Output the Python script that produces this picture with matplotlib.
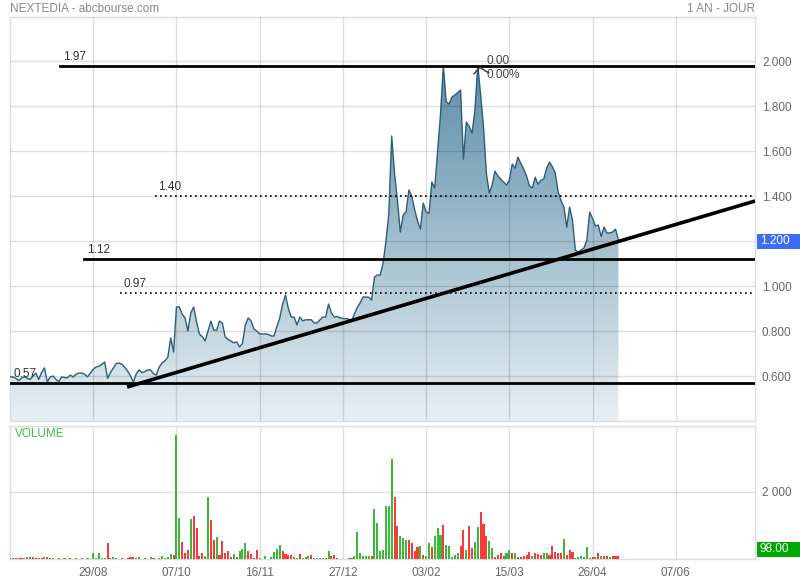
import numpy as np
import matplotlib
matplotlib.use('Agg')
import matplotlib.pyplot as plt
from matplotlib.colors import LinearSegmentedColormap
from matplotlib.patches import PathPatch, Rectangle
from matplotlib.transforms import blended_transform_factory

plt.rcParams['font.family'] = ['Liberation Sans', 'DejaVu Sans']

title = "NEXTEDIA - abcbourse.com"
period = "1 AN - JOUR"

price = [
    0.596, 0.596, 0.59, 0.58, 0.59, 0.597, 0.59, 0.585, 0.60, 0.613,
    0.585, 0.615, 0.636, 0.573, 0.596, 0.600, 0.585, 0.575, 0.596, 0.593,
    0.592, 0.604, 0.596, 0.608, 0.613, 0.613, 0.608, 0.596, 0.613, 0.63,
    0.64, 0.644, 0.652, 0.662, 0.59, 0.615, 0.635, 0.655, 0.658, 0.652,
    0.638, 0.622, 0.600, 0.573, 0.61, 0.627, 0.615, 0.62, 0.627, 0.627,
    0.61, 0.604, 0.64, 0.658, 0.668, 0.684, 0.769, 0.707, 0.907, 0.907,
    0.875, 0.858, 0.80, 0.88, 0.907, 0.84, 0.787, 0.775, 0.756, 0.80,
    0.844, 0.804, 0.804, 0.844, 0.835, 0.773, 0.762, 0.755, 0.747, 0.752,
    0.729, 0.745, 0.827, 0.858, 0.845, 0.809, 0.80, 0.787, 0.787, 0.787,
    0.785, 0.778, 0.778, 0.82, 0.858, 0.92, 0.96, 0.90, 0.862, 0.862,
    0.827, 0.862, 0.845, 0.85, 0.85, 0.85, 0.836, 0.836, 0.85, 0.862,
    0.862, 0.92, 0.88, 0.862, 0.865, 0.858, 0.856, 0.855, 0.853, 0.845,
    0.875, 0.905, 0.925, 0.951, 0.951, 0.95, 0.938, 1.04, 1.049, 1.049,
    1.10, 1.20, 1.32, 1.667, 1.50, 1.38, 1.24, 1.316, 1.33, 1.427,
    1.40, 1.34, 1.29, 1.253, 1.369, 1.33, 1.324, 1.462, 1.436, 1.60,
    1.76, 1.98, 1.82, 1.809, 1.84, 1.849, 1.86, 1.871, 1.564, 1.729,
    1.71, 1.68, 1.78, 1.98, 1.85, 1.707, 1.50, 1.413, 1.449, 1.511,
    1.49, 1.475, 1.462, 1.449, 1.47, 1.542, 1.524, 1.573, 1.545, 1.52,
    1.489, 1.445, 1.436, 1.484, 1.453, 1.47, 1.476, 1.524, 1.551, 1.53,
    1.502, 1.418, 1.38, 1.351, 1.262, 1.351, 1.293, 1.16, 1.151, 1.16,
    1.169, 1.204, 1.329, 1.30, 1.267, 1.271, 1.22, 1.262, 1.236, 1.236,
    1.24, 1.253, 1.205,
]

volume = [
    20, 20, 30, 30, 30, 20, 60, 50, 60, 30,
    30, 30, 60, 60, 20, 20, 10, 20, 10, 20,
    10, 20, 10, 20, 10, 20, 10, 20, 10, 180,
    20, 190, 30, 30, 480, 20, 60, 20, 10, 20,
    10, 20, 50, 70, 20, 50, 10, 20, 10, 70,
    20, 10, 20, 100, 20, 60, 150, 130, 3700, 1210,
    500, 180, 260, 1180, 1280, 930, 100, 180, 80, 1860,
    1170, 580, 650, 120, 530, 180, 250, 60, 150, 60,
    230, 310, 480, 250, 150, 20, 270, 30, 10, 100,
    10, 60, 220, 310, 430, 250, 150, 130, 120, 60,
    20, 160, 40, 50, 100, 130, 40, 40, 40, 20,
    20, 230, 100, 130, 20, 10, 10, 10, 40, 40,
    80, 815, 180, 80, 80, 80, 80, 1490, 1070, 250,
    280, 1590, 1570, 2990, 1850, 980, 680, 630, 580, 580,
    480, 230, 350, 400, 110, 80, 470, 350, 680, 930,
    730, 1010, 430, 380, 60, 110, 190, 380, 880, 280,
    980, 340, 500, 950, 1410, 1040, 700, 530, 340, 60,
    130, 180, 100, 180, 260, 170, 180, 60, 60, 80,
    130, 220, 80, 170, 150, 130, 180, 180, 110, 400,
    220, 180, 170, 600, 130, 280, 220, 40, 60, 80,
    60, 350, 40, 60, 60, 180, 90, 80, 80, 60,
    80, 100, 98,
]

# up (g) / down (r) flag of each volume bar, 10 per row
vol_dir = list(
    "rrrrrggrrr"
    "rrgrrggrrg"
    "grggrgggrg"
    "ggggrrggrr"
    "grrrgggrrg"
    "rggggggrgg"
    "rrrgrrrrgg"
    "rrgrrrrrgr"
    "gggrrrrggg"
    "gggggrrrrg"
    "grgggrgggg"
    "rgrrrrrggr"
    "ggggggrggg"
    "ggggrrgggr"
    "rrrgrggrgg"
    "grgggggrrg"
    "rrggrrrggr"
    "rrrggrgrrr"
    "rrgrrrggrr"
    "rrrgrrrggg"
    "ggrrgrgrrg"
    "rrr"
)

tick_pos = [29, 58, 87, 116, 145, 174, 203, 232]
tick_labels = ["29/08", "07/10", "16/11", "27/12", "03/02", "15/03", "26/04", "07/06"]
price_ticks = [0.6, 0.8, 1.0, 1.2, 1.4, 1.6, 1.8, 2.0]
vol_ticks = [2000]
vol_tick_labels = ["2 000"]

levels = [1.98, 1.40, 1.12, 0.97, 0.57]
level_labels = ["1.97", "1.40", "1.12", "0.97", "0.57"]
level_start = [17.4, 50.5, 25.8, 38.3, 0.0]
level_dotted = [False, True, False, True, False]

trend_x = [40.8, 259.6]
trend_y = [0.551, 1.378]

last_price = 1.200
last_volume = 98.00

n = len(price)
x = np.arange(n)
XMAX = 259.6
PMIN, PMAX = 0.40, 2.196
VMAX = 3970

fig = plt.figure(figsize=(8, 5.8), dpi=100)
ax = fig.add_axes([10/800, 159/580, 745/800, 404/580])
axv = fig.add_axes([10/800, 21/580, 745/800, 133/580])

for a in (ax, axv):
    for s in a.spines.values():
        s.set_color('#dddddd')
        s.set_linewidth(1)
    a.set_facecolor('white')

# price gradient area
poly = ax.fill_between(x, price, PMIN, color='none', lw=0)
path = poly.get_paths()[0]
patch = PathPatch(path, transform=ax.transData, facecolor='none', edgecolor='none')
ax.add_patch(patch)
cmap = LinearSegmentedColormap.from_list('g', ['#e8eff3', '#5b8ea8'])
grad = np.linspace(0, 1, 256).reshape(-1, 1)
im = ax.imshow(grad, extent=[0, n - 1, PMIN, 2.0], origin='lower', aspect='auto',
               cmap=cmap, zorder=1, interpolation='bilinear')
im.set_clip_path(patch)
ax.plot(x, price, color='#2c5e77', lw=1, zorder=3)

# levels
for lv, lab, st, dot in zip(levels, level_labels, level_start, level_dotted):
    if dot:
        ax.plot([st, XMAX], [lv, lv], color='black', lw=1.2, linestyle=(0, (1, 2)), zorder=4)
    else:
        ax.plot([st, XMAX], [lv, lv], color='black', lw=2, zorder=4)
    ax.text(st + 1.1, lv + 0.012, lab, fontsize=8.5, color='#333333', va='bottom', ha='left', zorder=5)

ax.plot(trend_x, trend_y, color='black', lw=2.6, zorder=4, solid_capstyle='butt')

# cursor at the top
pk = int(np.argmax(price[160:170])) + 160
ax.plot([pk - 1.3, pk + 0.7, pk + 3.8], [1.944, 1.972, 1.948], color='#333333', lw=1, zorder=5)
ax.text(166.2, 2.0, "0.00", fontsize=8.5, color='#444444', va='center', ha='left', zorder=5)
ax.text(166.2, 1.936, "0.00%", fontsize=8.5, color='#444444', va='center', ha='left', zorder=5)

ax.set_xlim(0, XMAX)
ax.set_ylim(PMIN, PMAX)
ax.set_xticks(tick_pos)
ax.set_xticklabels([])
ax.set_yticks(price_ticks)
# the 1.200 tick label is covered by the last-price tag
ax.set_yticklabels(["" if abs(v - last_price) < 1e-9 else f"{v:.3f}" for v in price_ticks])
ax.yaxis.tick_right()
ax.tick_params(axis='both', length=0)
ax.tick_params(axis='y', pad=5, labelsize=8.5, labelcolor='#666666')
ax.set_axisbelow(False)
ax.grid(True, color='black', alpha=0.13, lw=1)
for gl in ax.get_xgridlines() + ax.get_ygridlines():
    gl.set_zorder(2)

# last price tag
bt = blended_transform_factory(fig.transFigure, ax.transData)
ax.add_patch(Rectangle((757/800, last_price - 7.5/226), 43/800, 15/226, transform=bt,
                       facecolor='#3d6cf5', edgecolor='none', clip_on=False, zorder=10))
ax.text(760/800, last_price, f"{last_price:.3f}", transform=bt, color='white', fontsize=8.5,
        va='center', ha='left', zorder=11, clip_on=False)
ax.set_xlim(0, XMAX)
ax.set_ylim(PMIN, PMAX)

# volume
colors = ['#3cb83a' if d == 'g' else '#f53b3b' for d in vol_dir[:n]]
axv.bar(x, volume, width=0.72, color=colors, zorder=3, linewidth=0)
axv.set_xlim(0, XMAX)
axv.set_ylim(0, VMAX)
axv.set_xticks(tick_pos)
axv.set_xticklabels(tick_labels)
axv.set_yticks(vol_ticks)
axv.set_yticklabels(vol_tick_labels)
axv.yaxis.tick_right()
axv.tick_params(axis='both', length=0)
axv.tick_params(axis='y', pad=5, labelsize=8.5, labelcolor='#666666')
axv.tick_params(axis='x', pad=6, labelsize=8.5, labelcolor='#666666')
axv.set_axisbelow(True)
axv.grid(True, color='black', alpha=0.13, lw=1)
axv.text(0.006, 0.94, "VOLUME", transform=axv.transAxes, color='#44bb44', fontsize=8.5,
         va='center', ha='left')

vt = blended_transform_factory(fig.transFigure, axv.transData)
axv.add_patch(Rectangle((757/800, 60), 43/800, 447, transform=vt,
                        facecolor='#00a800', edgecolor='none', clip_on=False, zorder=10))
axv.text(760/800, 284, f"{last_volume:.2f}", transform=vt, color='white', fontsize=8.5,
         va='center', ha='left', zorder=11, clip_on=False)
axv.set_xlim(0, XMAX)
axv.set_ylim(0, VMAX)

fig.text(10/800, 1 - 9/580, title, fontsize=8.5, color='#888888', va='center', ha='left')
fig.text(755/800, 1 - 9/580, period, fontsize=8.5, color='#888888', va='center', ha='right')

fig.savefig('out.png', dpi=100, facecolor='white')
